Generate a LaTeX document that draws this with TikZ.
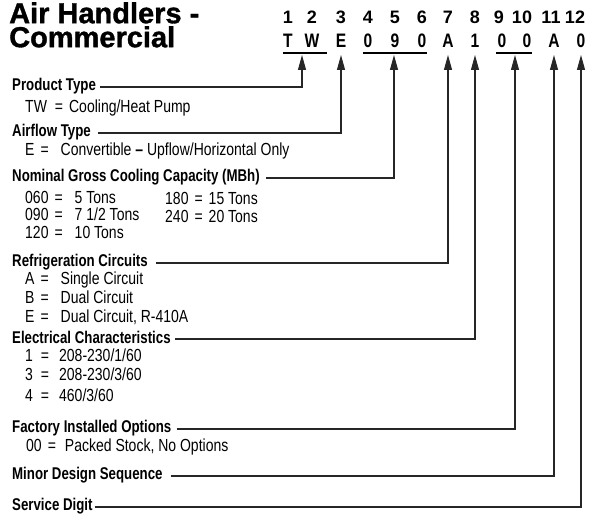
\documentclass[tikz,border=0pt]{standalone}
\usepackage{fontspec}
\setmainfont{Liberation Sans}
\newfontfamily\condf[FakeStretch=0.8]{Liberation Sans}
\newfontfamily\headf[FakeStretch=0.78]{Liberation Sans}
\newfontfamily\titlef[BoldFeatures={FakeBold=1.2}]{Liberation Sans}
\usetikzlibrary{arrows.meta}
\newcommand\eqsp[2]{\hspace{#1pt}=\hspace{#2pt}}
\begin{document}
\begin{tikzpicture}[x=1pt,y=-1pt,
  head/.style={font=\headf\bfseries\fontsize{17}{18}\selectfont, anchor=base west, inner sep=0pt},
  item/.style={font=\condf\fontsize{17.5}{19}\selectfont, anchor=base west, inner sep=0pt},
  digit/.style={font=\bfseries\fontsize{18}{18}\selectfont, anchor=base, inner sep=0pt},
  code/.style={font=\condf\bfseries\fontsize{19.5}{19.5}\selectfont, anchor=base, inner sep=0pt},
  title/.style={font=\titlef\bfseries\fontsize{29}{24}\selectfont, anchor=north west, inner sep=0pt, align=left},
  conn/.style={draw=black!85, line width=1.1pt, -{Triangle[length=15pt,width=8pt]}},
  uline/.style={draw=black, line width=1.2pt}]
\useasboundingbox (0,0) rectangle (590,516);
% title
\node[title] (t1) at (9,2) {Air Handlers -\\Commercial};
% digit row
\foreach \d/\x in {1/288,2/312,3/341,4/368,5/395,6/422,7/448,8/475,9/499,10/522,11/551,12/575}
  \node[digit] (d\d) at (\x,24) {\d};
% code row
\foreach \c/\x/\n in {T/288/1,W/312/2,E/341/3,0/368/4,9/395/5,0/422/6,A/448/7,1/475/8,0/502/9,0/527/10,A/554/11,0/581/12}
  \node[code] (c\n) at (\x,48) {\c};
% underlines
\draw[uline] (283,53) -- (327,53);
\draw[uline] (363,53) -- (427,53);
\draw[uline] (496,53) -- (532,53);
% arrow tips
\coordinate (aTW) at (302,55);
\coordinate (aE) at (341,55);
\coordinate (aCap) at (394,55);
\coordinate (aRef) at (448,55);
\coordinate (aEl) at (475,55);
\coordinate (aOpt) at (515,55);
\coordinate (aMin) at (554,55);
\coordinate (aSvc) at (581,55);
% headings
\node[head] (h1) at (12,91) {Product Type};
\node[item] at (25,113) {TW\eqsp{8}{6}Cooling/Heat Pump};
\node[head] (h2) at (12,137) {Airflow Type};
\node[item] at (25,156) {E\eqsp{6}{12}Convertible {\bfseries –} Upflow/Horizontal Only};
\node[head] (h3) at (12,182) {Nominal Gross Cooling Capacity (MBh)};
\node[item] at (25,204) {060\eqsp{6}{12}5 Tons};
\node[item] at (25,221) {090\eqsp{6}{12}7 1/2 Tons};
\node[item] at (25,239) {120\eqsp{6}{12}10 Tons};
\node[item] at (165,205) {180\eqsp{6}{6}15 Tons};
\node[item] at (165,223) {240\eqsp{6}{6}20 Tons};
\node[head] (h4) at (12,267) {Refrigeration Circuits};
\node[item] at (25,285) {A\eqsp{6}{12}Single Circuit};
\node[item] at (25,304) {B\eqsp{6}{12}Dual Circuit};
\node[item] at (25,323) {E\eqsp{6}{12}Dual Circuit, R-410A};
\node[head] (h5) at (12,344) {Electrical Characteristics};
\node[item] at (25,362) {1\eqsp{8}{10}208-230/1/60};
\node[item] at (25,381) {3\eqsp{8}{10}208-230/3/60};
\node[item] at (25,401) {4\eqsp{8}{10}460/3/60};
\node[head] (h6) at (12,432) {Factory Installed Options};
\node[item] at (26,451) {00\eqsp{6}{9}Packed Stock, No Options};
\node[head] (h7) at (12,479) {Minor Design Sequence};
\node[head] (h8) at (12,510) {Service Digit};
% connectors
\draw[conn] ([shift={(4pt,4pt)}]h1.base east) -| (aTW);
\draw[conn] ([shift={(7pt,4pt)}]h2.base east) -| (aE);
\draw[conn] ([shift={(6pt,4pt)}]h3.base east) -| (aCap);
\draw[conn] ([shift={(8pt,4pt)}]h4.base east) -| (aRef);
\draw[conn] ([shift={(4pt,5pt)}]h5.base east) -| (aEl);
\draw[conn] ([shift={(5pt,3pt)}]h6.base east) -| (aOpt);
\draw[conn] ([shift={(8pt,3pt)}]h7.base east) -| (aMin);
\draw[conn] ([shift={(2pt,3pt)}]h8.base east) -| (aSvc);
\end{tikzpicture}
\end{document}
